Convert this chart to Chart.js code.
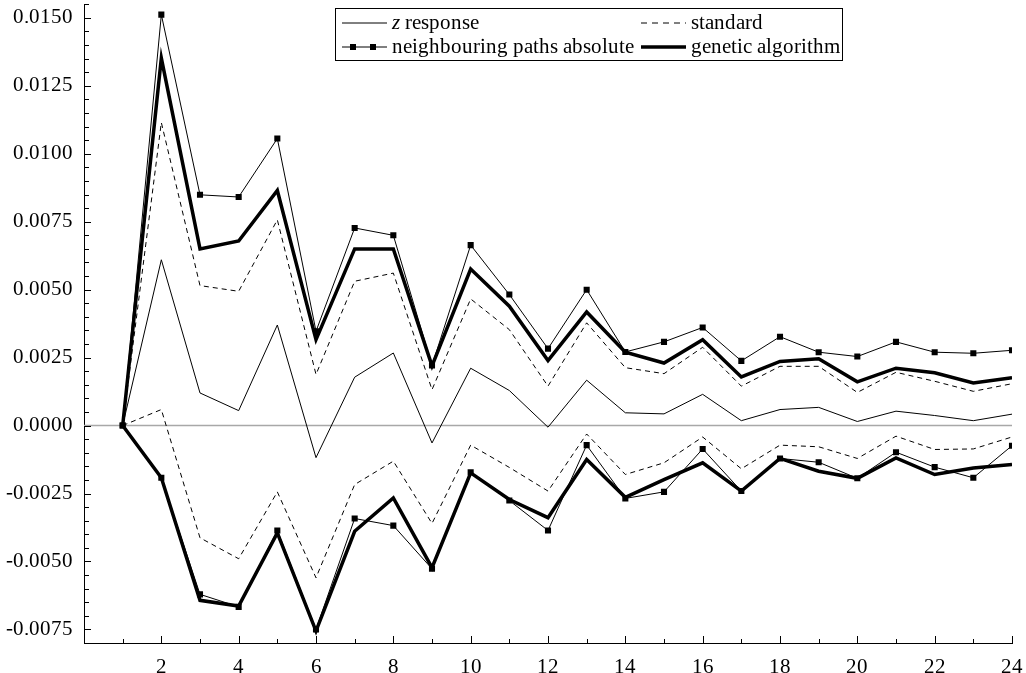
<!DOCTYPE html>
<html>
<head>
<meta charset="utf-8">
<script src="https://cdn.jsdelivr.net/npm/chart.js@4.4.1/dist/chart.umd.min.js"></script>
<style>
  @font-face {
    font-family: 'PlotSerif';
    src: local('Liberation Serif'), local('LiberationSerif'), local('LiberationSerif-Regular'),
         local('Times New Roman'), local('DejaVu Serif'), local('DejaVuSerif');
    font-style: normal;
  }
  @font-face {
    font-family: 'PlotSerif';
    src: local('Liberation Serif Italic'), local('LiberationSerif-Italic'),
         local('Times New Roman Italic'), local('DejaVu Serif Italic'), local('DejaVuSerif-Italic');
    font-style: italic;
  }
  body { margin: 0; background: #fff; }
  #wrap { width: 1026px; height: 673px; }
</style>
</head>
<body>
<div id="wrap"><canvas id="chart"></canvas></div>
<script>
// steps on the x axis
const xValues = [1, 2, 3, 4, 5, 6, 7, 8, 9, 10, 11, 12, 13, 14, 15, 16, 17, 18, 19, 20, 21, 22, 23, 24];

// z response
const zResponse = [0, 0.0061, 0.0012, 0.00055, 0.0037, -0.00118, 0.00178, 0.00267, -0.00064, 0.00211, 0.00129, -0.00006,
  0.00167, 0.00047, 0.00043, 0.00115, 0.00018, 0.00059, 0.00067, 0.00015, 0.00053, 0.00037, 0.00018, 0.00042];

// standard (upper / lower)
const stdUpper = [0, 0.01115, 0.00515, 0.00494, 0.00757, 0.00188, 0.00531, 0.00561, 0.00132, 0.00466, 0.00353, 0.00145,
  0.00378, 0.00213, 0.00191, 0.00288, 0.00145, 0.00218, 0.00218, 0.00122, 0.00196, 0.00163, 0.00126, 0.00154];
const stdLower = [0, 0.00059, -0.00413, -0.0049, -0.00244, -0.0056, -0.00217, -0.00131, -0.0036, -0.00072, -0.00154, -0.00241,
  -0.00031, -0.0018, -0.00137, -0.00042, -0.00159, -0.00072, -0.00078, -0.00121, -0.00039, -0.00088, -0.00086, -0.00042];

// neighbouring paths absolute (upper / lower)
const npUpper = [0, 0.01512, 0.00849, 0.00841, 0.01056, 0.00347, 0.00727, 0.007, 0.00221, 0.00664, 0.00482, 0.00283,
  0.005, 0.00271, 0.00308, 0.00361, 0.00238, 0.00327, 0.0027, 0.00254, 0.00308, 0.0027, 0.00266, 0.00277];
const npLower = [0, -0.00192, -0.00621, -0.00667, -0.00386, -0.0075, -0.00342, -0.00368, -0.00527, -0.00172, -0.00276, -0.00386,
  -0.00072, -0.00268, -0.00244, -0.00086, -0.00241, -0.00121, -0.00135, -0.00194, -0.00098, -0.00153, -0.00192, -0.00074];

// genetic algorithm (upper / lower)
const gaUpper = [0, 0.01352, 0.0065, 0.00679, 0.00865, 0.00316, 0.0065, 0.0065, 0.0022, 0.00576, 0.00439, 0.00239,
  0.00418, 0.0027, 0.0023, 0.00316, 0.00179, 0.00236, 0.00246, 0.00161, 0.00211, 0.00194, 0.00157, 0.00176];
const gaLower = [0, -0.00192, -0.00643, -0.00664, -0.00395, -0.00756, -0.00389, -0.00266, -0.00523, -0.00174, -0.00272, -0.00339,
  -0.00125, -0.00264, -0.00199, -0.00137, -0.00241, -0.00121, -0.00168, -0.00194, -0.00119, -0.0018, -0.00156, -0.00143];

const legendLabels = ['z response', 'standard', 'neighbouring paths absolute', 'genetic algorithm'];

const FONT = "PlotSerif, 'Liberation Serif', 'Times New Roman', 'DejaVu Serif', serif";
Chart.defaults.font.family = FONT;
Chart.defaults.font.size = 21;
Chart.defaults.color = '#000';

function pts(arr) {
  return xValues.map((x, i) => ({ x: x, y: arr[i] }));
}

function thin(arr) {
  return { data: pts(arr), borderColor: '#000', borderWidth: 1, pointRadius: 0, fill: false, tension: 0 };
}
function dashed(arr) {
  return { data: pts(arr), borderColor: '#000', borderWidth: 1, borderDash: [5, 4], pointRadius: 0, fill: false, tension: 0 };
}
function squares(arr) {
  return { data: pts(arr), borderColor: '#000', borderWidth: 1, pointStyle: 'rect', pointRadius: 4.3,
    pointBackgroundColor: '#000', pointBorderColor: '#000', pointBorderWidth: 0, fill: false, tension: 0 };
}
function thick(arr) {
  return { data: pts(arr), borderColor: '#000', borderWidth: 3.5, pointRadius: 0, fill: false, tension: 0,
    borderJoinStyle: 'miter' };
}

// zero line, inward tick marks and the boxed legend
const decoPlugin = {
  id: 'deco',
  beforeDatasetsDraw(chart) {
    const { ctx, chartArea, scales } = chart;
    const y0 = scales.y.getPixelForValue(0);
    ctx.save();
    ctx.strokeStyle = '#a8a8a8';
    ctx.lineWidth = 1.5;
    ctx.beginPath();
    ctx.moveTo(chartArea.left, y0);
    ctx.lineTo(chartArea.right, y0);
    ctx.stroke();
    ctx.restore();
  },
  afterDraw(chart) {
    const { ctx, chartArea, scales } = chart;
    const xs = scales.x, ys = scales.y;
    ctx.save();
    ctx.strokeStyle = '#000';
    ctx.lineWidth = 1;
    ctx.beginPath();
    for (let v = 1; v <= 24; v++) {
      const px = Math.round(xs.getPixelForValue(v)) + 0.5;
      const len = v % 2 === 0 ? 7 : 4;
      ctx.moveTo(px, chartArea.bottom);
      ctx.lineTo(px, chartArea.bottom - len);
    }
    for (let k = -15; k <= 31; k++) {
      const v = k * 0.0005;
      const py = Math.round(ys.getPixelForValue(v)) + 0.5;
      const len = k % 5 === 0 ? 7 : 5;
      ctx.moveTo(chartArea.left, py);
      ctx.lineTo(chartArea.left + len, py);
    }
    ctx.stroke();

    // legend
    const bx = 335.5, by = 8.5, bw = 507, bh = 52;
    ctx.fillStyle = '#fff';
    ctx.fillRect(bx, by, bw, bh);
    ctx.strokeRect(bx, by, bw, bh);
    const r1 = 23, r2 = 47;
    const c1 = 342, c2 = 641, sl = 45, gap = 5;

    ctx.beginPath();
    ctx.moveTo(c1, r1); ctx.lineTo(c1 + sl, r1); ctx.stroke();

    ctx.setLineDash([6, 5]);
    ctx.beginPath();
    ctx.moveTo(c2, r1); ctx.lineTo(c2 + sl, r1); ctx.stroke();
    ctx.setLineDash([]);

    ctx.beginPath();
    ctx.moveTo(c1, r2); ctx.lineTo(c1 + sl, r2); ctx.stroke();
    ctx.fillStyle = '#000';
    [c1 + 11, c1 + 31].forEach(px => ctx.fillRect(px - 3, r2 - 3, 6, 6));

    ctx.lineWidth = 3.5;
    ctx.beginPath();
    ctx.moveTo(c2, r2); ctx.lineTo(c2 + sl, r2); ctx.stroke();

    ctx.textBaseline = 'middle';
    ctx.textAlign = 'left';
    // first label: italic z then the rest
    const first = legendLabels[0];
    ctx.font = 'italic 21px ' + FONT;
    const zw = ctx.measureText(first[0]).width;
    ctx.fillText(first[0], c1 + sl + gap, r1);
    ctx.font = '21px ' + FONT;
    ctx.fillText(first.slice(1), c1 + sl + gap + zw, r1);
    ctx.fillText(legendLabels[1], c2 + sl + gap, r1);
    ctx.fillText(legendLabels[2], c1 + sl + gap, r2);
    ctx.fillText(legendLabels[3], c2 + sl + gap, r2);
    ctx.restore();
  }
};

function build() {
  new Chart(document.getElementById('chart'), {
    type: 'line',
    data: {
      datasets: [
        squares(npUpper), squares(npLower),
        thick(gaUpper), thick(gaLower),
        dashed(stdUpper), dashed(stdLower),
        thin(zResponse)
      ]
    },
    options: {
      responsive: true,
      maintainAspectRatio: false,
      animation: false,
      layout: { padding: { top: 4, right: 14, left: 0, bottom: 0 } },
      plugins: { legend: { display: false }, tooltip: { enabled: false } },
      scales: {
        x: {
          type: 'linear',
          min: 0,
          max: 24,
          grid: { display: false },
          border: { display: true, color: '#000', width: 1 },
          ticks: {
            stepSize: 2,
            autoSkip: false,
            maxRotation: 0,
            padding: 4,
            callback: v => (v === 0 ? '' : v)
          },
          afterFit: s => { s.height = 30; s.paddingLeft = 0; s.paddingRight = 0; }
        },
        y: {
          min: -0.008,
          max: 0.0155,
          grid: { display: false },
          border: { display: true, color: '#000', width: 1 },
          ticks: {
            stepSize: 0.0025,
            includeBounds: false,
            padding: 3,
            callback: v => v.toFixed(4)
          },
          afterFit: s => { s.width = 84; s.paddingTop = 0; s.paddingBottom = 0; }
        }
      }
    },
    plugins: [decoPlugin]
  });
}

Promise.all([
  document.fonts.load('21px PlotSerif'),
  document.fonts.load('italic 21px PlotSerif')
]).then(build, build);
</script>
</body>
</html>
